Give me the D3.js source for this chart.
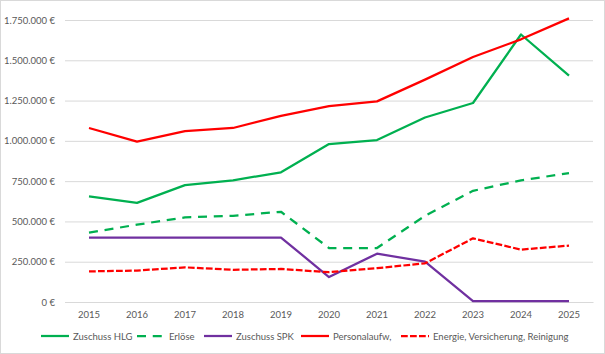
<!DOCTYPE html>
<html><head><meta charset="utf-8">
<script src="https://cdn.jsdelivr.net/npm/d3@7"></script>
<style>body{margin:0;background:#fff}svg{display:block}text{font-family:"Lato","Liberation Sans",sans-serif;fill:#595959}</style>
</head><body><svg id="c" width="605" height="354"></svg>
<script>
const years = ["2015","2016","2017","2018","2019","2020","2021","2022","2023","2024","2025"];
const zuschussHLG = [655000,615000,725000,755000,805000,980000,1005000,1145000,1235000,1660000,1405000];
const erloese = [430000,480000,525000,535000,560000,335000,335000,535000,690000,755000,800000];
const zuschussSPK = [400000,400000,400000,400000,400000,155000,300000,250000,5000,5000,5000];
const personal = [1080000,995000,1060000,1080000,1155000,1215000,1245000,1380000,1520000,1630000,1760000];
const energie = [190000,195000,215000,200000,205000,185000,210000,240000,395000,325000,350000];
const yTicks = [0,250000,500000,750000,1000000,1250000,1500000,1750000];
const seriesNames = ["Zuschuss HLG","Erlöse","Zuschuss SPK","Personalaufw,","Energie, Versicherung, Reinigung"];

const series = [
  {name:seriesNames[0], values:zuschussHLG, color:"#00b050", dash:null},
  {name:seriesNames[1], values:erloese, color:"#00b050", dash:"9,6.75"},
  {name:seriesNames[2], values:zuschussSPK, color:"#7030a0", dash:null},
  {name:seriesNames[3], values:personal, color:"#ff0000", dash:null},
  {name:seriesNames[4], values:energie, color:"#ff0000", dash:"6.75,2.25"}
];

const svg = d3.select("#c");
svg.append("rect").attr("x",0.5).attr("y",0.5).attr("width",604).attr("height",353)
  .attr("fill","#fff").attr("stroke","#d9d9d9");

const x = d3.scaleBand().domain(years).range([65,593]);
const y = d3.scaleLinear().domain([0,1750000]).range([302,20]);
const fmt = v => (v===0 ? "0" : d3.format(",")(v).replace(/,/g,".")) + " €";

const gy = svg.append("g").attr("transform","translate(65,0)")
  .call(d3.axisLeft(y).tickValues(yTicks).tickSize(-528).tickFormat(fmt));
gy.select(".domain").remove();
gy.selectAll(".tick line").attr("stroke","#d9d9d9").attr("stroke-width",1);
gy.selectAll(".tick text").attr("x",-10).style("font-size","9.5px").style("fill","#595959")
  .style("font-family","Lato, 'Liberation Sans', sans-serif");

const gx = svg.append("g").attr("transform","translate(0,302)")
  .call(d3.axisBottom(x).tickSize(0).tickPadding(9));
gx.select(".domain").attr("stroke","#d9d9d9");
gx.selectAll(".tick text").style("font-size","9.5px").style("fill","#595959")
  .style("font-family","Lato, 'Liberation Sans', sans-serif");

const line = d3.line().x((d,i)=>x(years[i])+x.bandwidth()/2).y(d=>y(d));
series.forEach(s=>{
  svg.append("path").datum(s.values).attr("d",line).attr("fill","none")
    .attr("stroke",s.color).attr("stroke-width",2.25)
    .attr("stroke-dasharray",s.dash).attr("stroke-linejoin","round");
});

const legX = [41,137,204,301,401];
const leg = svg.append("g");
series.forEach((s,i)=>{
  const g = leg.append("g").attr("transform",`translate(${legX[i]},336)`);
  g.append("line").attr("x1",0).attr("x2",28).attr("y1",0).attr("y2",0)
    .attr("stroke",s.color).attr("stroke-width",2.25).attr("stroke-dasharray",s.dash);
  g.append("text").attr("x",32).attr("y",3.5).style("font-size","9.5px").text(s.name);
});
</script></body></html>
